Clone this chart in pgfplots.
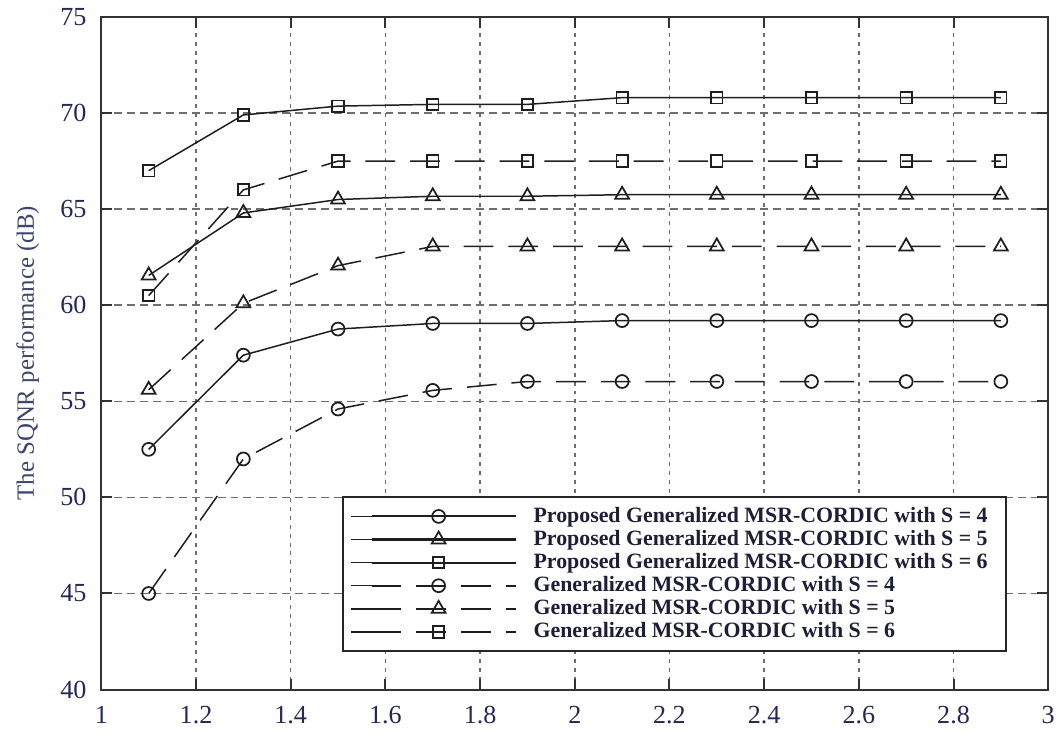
\documentclass[border=0pt]{standalone}
\usepackage{fontspec}
\setmainfont{Liberation Serif}
\usepackage{pgfplots}
\pgfplotsset{compat=1.18}

\definecolor{ticktext}{RGB}{35,40,85}
\definecolor{labeltext}{RGB}{60,70,110}
\definecolor{legtext}{RGB}{30,30,55}
\definecolor{curve}{RGB}{30,30,30}
\definecolor{gridc}{RGB}{110,110,110}

\begin{document}
\begin{tikzpicture}
\begin{axis}[
    width=381.2pt, height=270.8pt, scale only axis,
    xmin=1, xmax=3, ymin=40, ymax=75,
    xtick={1,1.2,1.4,1.6,1.8,2,2.2,2.4,2.6,2.8,3},
    ytick={40,45,50,55,60,65,70,75},
    /pgf/number format/assume math mode=true,
    tick label style={font=\fontsize{10.5}{12}\selectfont, text=ticktext},
    yticklabel style={xshift=-2.5pt},
    xticklabel style={yshift=-3pt},
    ylabel={The SQNR performance (dB)},
    ylabel style={at={(axis description cs:-0.0777,0.5)}, anchor=center,
        font=\fontsize{10}{12}\selectfont, text=labeltext},
    axis line style={black!80, line width=0.8pt},
    tick align=inside, major tick length=4.4pt,
    tick style={black!80, line width=0.8pt},
    grid=major,
    major x grid style={gridc, line width=0.6pt, dash pattern=on 1.6pt off 2pt},
    major y grid style={gridc, line width=0.6pt, dash pattern=on 3.2pt off 2pt},
    legend cell align=left,
    legend image code/.code={
        \path (0pt,0pt) -- (8.4pt,0pt);
        \draw[line width=0.85pt, mark repeat=2, mark phase=2] plot coordinates {(8.4pt,0pt) (35.4pt,0pt) (66.4pt,0pt)};
    },
    legend style={at={(0.956,0.056)}, anchor=south east, draw=black!85,
        line width=0.8pt, fill=white, inner xsep=3pt, inner ysep=3pt,
        font=\fontsize{8.8}{9}\selectfont\bfseries, text=legtext,
        row sep=0pt,
        /tikz/every odd column/.append style={column sep=2.6pt},
        nodes={text height=6pt, text depth=1.5pt, inner ysep=0.9pt, inner xsep=4.2pt}},
]
% Proposed, S = 4
\addplot[curve, line width=0.6pt, mark=o, mark size=2.6pt, mark options={solid, line width=0.7pt}] coordinates {
    (1.1,52.5) (1.3,57.4) (1.5,58.76) (1.7,59.05) (1.9,59.05) (2.1,59.2) (2.3,59.2) (2.5,59.2) (2.7,59.2) (2.9,59.2)
};
% Proposed, S = 5
\addplot[curve, line width=0.6pt, mark=triangle, mark size=3.2pt, mark options={solid, line width=0.7pt}] coordinates {
    (1.1,61.55) (1.3,64.8) (1.5,65.5) (1.7,65.67) (1.9,65.67) (2.1,65.75) (2.3,65.75) (2.5,65.75) (2.7,65.75) (2.9,65.75)
};
% Proposed, S = 6
\addplot[curve, line width=0.6pt, mark=square, mark size=2.3pt, mark options={solid, line width=0.7pt}] coordinates {
    (1.1,67.0) (1.3,69.9) (1.5,70.36) (1.7,70.45) (1.9,70.45) (2.1,70.8) (2.3,70.8) (2.5,70.8) (2.7,70.8) (2.9,70.8)
};
% Generalized, S = 4
\addplot[curve, line width=0.6pt, dash pattern=on 12pt off 6pt, mark=o, mark size=2.6pt, mark options={solid, line width=0.7pt}] coordinates {
    (1.1,45.0) (1.3,52.0) (1.5,54.6) (1.7,55.57) (1.9,56.03) (2.1,56.03) (2.3,56.03) (2.5,56.03) (2.7,56.03) (2.9,56.03)
};
% Generalized, S = 5
\addplot[curve, line width=0.6pt, dash pattern=on 12pt off 6pt, mark=triangle, mark size=3.2pt, mark options={solid, line width=0.7pt}] coordinates {
    (1.1,55.6) (1.3,60.1) (1.5,62.06) (1.7,63.06) (1.9,63.06) (2.1,63.06) (2.3,63.06) (2.5,63.06) (2.7,63.06) (2.9,63.06)
};
% Generalized, S = 6
\addplot[curve, line width=0.6pt, dash pattern=on 12pt off 6pt, mark=square, mark size=2.3pt, mark options={solid, line width=0.7pt}] coordinates {
    (1.1,60.5) (1.3,66.0) (1.5,67.5) (1.7,67.5) (1.9,67.5) (2.1,67.5) (2.3,67.5) (2.5,67.5) (2.7,67.5) (2.9,67.5)
};
\legend{
    Proposed Generalized MSR-CORDIC with S = 4,
    Proposed Generalized MSR-CORDIC with S = 5,
    Proposed Generalized MSR-CORDIC with S = 6,
    Generalized MSR-CORDIC with S = 4,
    Generalized MSR-CORDIC with S = 5,
    Generalized MSR-CORDIC with S = 6}
\coordinate (bl) at (rel axis cs:0,0);
\coordinate (tr) at (rel axis cs:1,1);
\end{axis}
\path ([shift={(-40.8pt,-16pt)}]bl) rectangle ([shift={(3.2pt,5.6pt)}]tr);
\end{tikzpicture}
\end{document}
